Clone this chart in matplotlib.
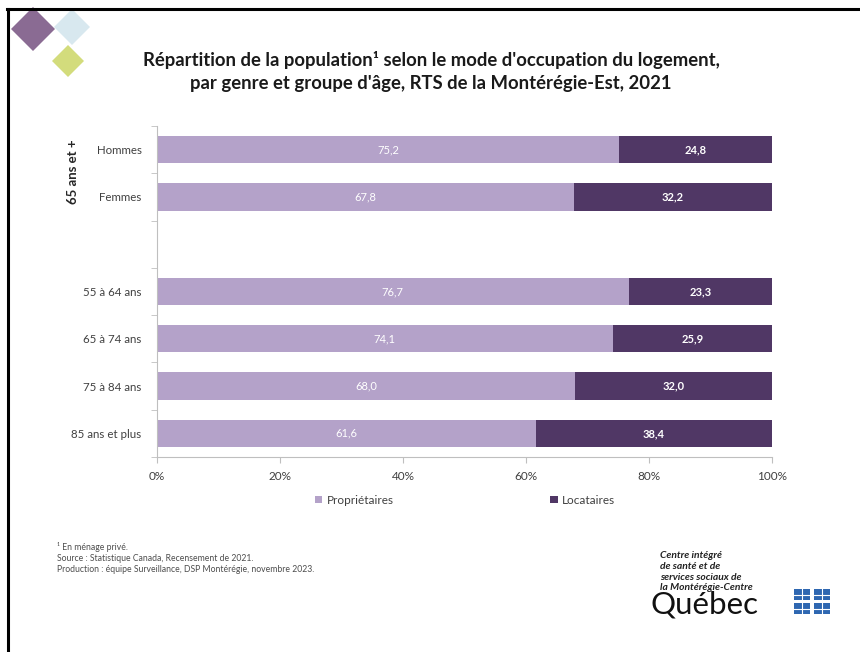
import numpy as np
import matplotlib
matplotlib.use("Agg")
import matplotlib.pyplot as plt
from matplotlib.patches import Polygon, Rectangle
from matplotlib.lines import Line2D

plt.rcParams["font.family"] = ["Lato", "DejaVu Sans"]

categories = ["Hommes", "Femmes", "", "55 à 64 ans", "65 à 74 ans", "75 à 84 ans", "85 ans et plus"]
proprietaires = [75.2, 67.8, np.nan, 76.7, 74.1, 68.0, 61.6]
locataires = [24.8, 32.2, np.nan, 23.3, 25.9, 32.0, 38.4]
series_names = ["Propriétaires", "Locataires"]
x_ticks = [0, 20, 40, 60, 80, 100]
group_label = "65 ans et +"

LIGHT = "#B4A2C9"
DARK = "#503765"
AXIS_GREY = "#BFBFBF"
TEXT_GREY = "#404040"

fig = plt.figure(figsize=(8.6, 6.52), dpi=100)
W, H = 860, 652


def fx(px):
    return px / W


def fy(py):
    return 1 - py / H


# slide border (top and left)
fig.add_artist(Line2D([fx(7), 1], [fy(9), fy(9)], color="black", lw=2.2))
fig.add_artist(Line2D([fx(7.5), fx(7.5)], [fy(9), 0], color="black", lw=2.2))

# decorative diamonds, top left
def diamond(cx, cy, r, color):
    pts = [(fx(cx - r), fy(cy)), (fx(cx), fy(cy - r)), (fx(cx + r), fy(cy)), (fx(cx), fy(cy + r))]
    fig.add_artist(Polygon(pts, closed=True, facecolor=color, edgecolor="none"))

diamond(72, 27, 18, "#D8E8EF")
diamond(33, 29, 22, "#8A6B93")
diamond(68, 61, 16, "#D3DC7C")

# title
fig.text(fx(431), fy(60), "Répartition de la population¹ selon le mode d'occupation du logement,",
         ha="center", va="center", fontsize=13.3, fontweight="bold", color="#1a1a1a")
fig.text(fx(431), fy(83), "par genre et groupe d'âge, RTS de la Montérégie-Est, 2021",
         ha="center", va="center", fontsize=13.3, fontweight="bold", color="#1a1a1a")

ax = fig.add_axes([fx(157), fy(457), fx(772) - fx(157), fy(126) - fy(457)])
y = np.arange(len(categories))
prop = np.array(proprietaires)
loc = np.array(locataires)
ax.barh(y, prop, height=0.58, color=LIGHT, label=series_names[0])
ax.barh(y, loc, left=prop, height=0.58, color=DARK, label=series_names[1])

for yi, p, l in zip(y, prop, loc):
    if np.isnan(p):
        continue
    ax.text(p / 2, yi, f"{p:.1f}".replace(".", ","), ha="center", va="center",
            color="white", fontsize=8)
    ax.text(p + l / 2, yi, f"{l:.1f}".replace(".", ","), ha="center", va="center",
            color="white", fontsize=8, fontweight="bold")

ax.set_xlim(0, 100)
ax.set_ylim(len(categories) - 0.5, -0.5)
ax.set_xticks(x_ticks)
ax.set_xticklabels([f"{t}%" for t in x_ticks])
ax.set_yticks(y)
ax.set_yticklabels(categories)
ax.set_yticks(np.arange(-0.5, len(categories)), minor=True)
ax.tick_params(axis="y", which="major", length=0, pad=11, labelsize=8.3, labelcolor=TEXT_GREY)
ax.tick_params(axis="y", which="minor", length=4, color=AXIS_GREY)
ax.tick_params(axis="x", length=4, color=AXIS_GREY, labelsize=8.5, labelcolor=TEXT_GREY, pad=6)
for side in ["top", "right"]:
    ax.spines[side].set_visible(False)
for side in ["left", "bottom"]:
    ax.spines[side].set_color(AXIS_GREY)
    ax.spines[side].set_linewidth(0.8)

fig.text(fx(73), fy(172), group_label, rotation=90, ha="center", va="center",
         fontsize=9.5, fontweight="bold", color="#262626")

handles, labels = ax.get_legend_handles_labels()
fig.legend(handles, labels, loc="center", bbox_to_anchor=(fx(465), fy(500)), ncol=2,
           frameon=False, fontsize=8.5, handlelength=0.6, handleheight=0.6,
           columnspacing=13.3, handletextpad=0.4, labelcolor=TEXT_GREY)

# footnotes
notes = ["¹ En ménage privé.",
         "Source : Statistique Canada, Recensement de 2021.",
         "Production : équipe Surveillance, DSP Montérégie, novembre 2023."]
for i, n in enumerate(notes):
    fig.text(fx(57), fy(547 + 11.5 * i), n, ha="left", va="center", fontsize=6.2, color="#4d4d4d")

# CISSS logo, bottom right
logo_lines = ["Centre intégré", "de santé et de", "services sociaux de", "la Montérégie-Centre"]
for i, t in enumerate(logo_lines):
    fig.text(fx(660), fy(556 + 10.5 * i), t, ha="left", va="center", fontsize=7.4,
             fontweight="bold", fontstyle="italic", color="#222222")
fig.text(fx(651), fy(605), "Québec", ha="left", va="center", fontsize=22.5, color="#111111")

for cx in (794, 814):
    for cy in (589, 603):
        fig.add_artist(Rectangle((fx(cx), fy(cy + 11)), fx(16), 11 / H, facecolor="#2E67B1",
                                 edgecolor="none"))
        fig.add_artist(Line2D([fx(cx), fx(cx + 16)], [fy(cy + 5.5)] * 2, color="white", lw=0.8))
        fig.add_artist(Line2D([fx(cx + 8)] * 2, [fy(cy), fy(cy + 11)], color="white", lw=0.8))

fig.savefig("out.png", dpi=100, facecolor="white")
